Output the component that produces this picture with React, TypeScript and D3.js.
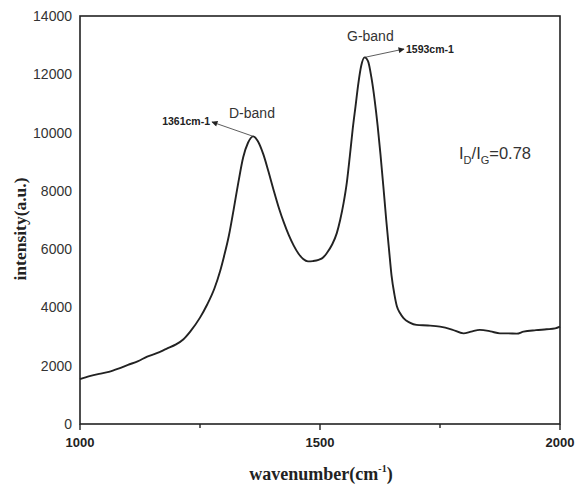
import React from "react";
import * as d3 from "d3";

const wavenumber = [
  1000, 1020, 1040, 1060, 1080, 1100, 1120, 1140, 1160, 1180, 1200, 1215, 1230, 1250, 1265, 1280, 1292, 1300, 1310, 1320,
  1330, 1340, 1350, 1361, 1370, 1382, 1392, 1403, 1415, 1425, 1435, 1445, 1455, 1465, 1475, 1485, 1497, 1507, 1514, 1525, 1535,
  1542, 1549, 1556, 1562, 1568, 1574, 1580, 1586, 1593, 1600, 1607, 1614, 1620, 1626, 1632, 1638, 1644, 1649, 1655, 1660,
  1667, 1674, 1687, 1701, 1725, 1750, 1775, 1799, 1815, 1833, 1855, 1875, 1892, 1910, 1924, 1950, 1972, 1990, 2000,
];
const intensity = [
  1540, 1640, 1720, 1790, 1900, 2030, 2150, 2310, 2430, 2580, 2730, 2900, 3180, 3650, 4100, 4650, 5250, 5750, 6450, 7350,
  8300, 9150, 9650, 9870, 9720, 9250, 8700, 8050, 7380, 6900, 6480, 6130, 5850, 5660, 5580, 5590, 5630, 5720, 5860, 6150, 6550,
  7000, 7570, 8300, 9170, 10100, 10900, 11700, 12300, 12580, 12450, 11900, 11100, 10250, 9250, 8150, 7000, 5950, 5100, 4450, 4050,
  3800, 3630, 3480, 3400, 3380, 3340, 3240, 3110, 3170, 3230, 3180, 3110, 3110, 3100, 3170, 3220, 3250, 3280, 3340,
];
const xTicks = [1000, 1250, 1500, 1750, 2000];
const xTickLabels = ["1000", "", "1500", "", "2000"];
const yTicks = [0, 2000, 4000, 6000, 8000, 10000, 12000, 14000];

const peaks = [
  { wn: 1361, val: 9870, label: "1361cm-1", band: "D-band" },
  { wn: 1593, val: 12580, label: "1593cm-1", band: "G-band" },
];

export default function App() {
  const W = 576, H = 487;
  const left = 80, right = 560, top = 16, bottom = 424;
  const x = d3.scaleLinear().domain([1000, 2000]).range([left, right]);
  const y = d3.scaleLinear().domain([0, 14000]).range([bottom, top]);
  const data = wavenumber.map((w, i) => [w, intensity[i]] as [number, number]);
  const line = d3.line<[number, number]>().x(d => x(d[0])).y(d => y(d[1])).curve(d3.curveMonotoneX);

  const dPk = peaks[0], gPk = peaks[1];
  const sans = "'Liberation Sans', Arial, sans-serif";
  const serif = "'Liberation Serif', 'Times New Roman', serif";

  return (
    <svg width={W} height={H} style={{ position: "absolute", left: 0, top: 0, background: "#fff" }}>
      <defs>
        <marker id="arr" viewBox="0 0 10 10" refX="9" refY="5" markerWidth="9" markerHeight="6" orient="auto" markerUnits="userSpaceOnUse">
          <path d="M0,0 L10,5 L0,10 z" fill="#222" />
        </marker>
      </defs>
      <rect x={0} y={0} width={W} height={H} fill="#fff" />
      <rect x={left} y={top} width={right - left} height={bottom - top} fill="none" stroke="#222" strokeWidth={1.6} />
      {xTicks.map((t, i) => (
        <g key={t}>
          <line x1={x(t)} x2={x(t)} y1={bottom} y2={bottom + (xTickLabels[i] ? 6 : 4)} stroke="#222" strokeWidth={1.4} />
          {xTickLabels[i] && (
            <text x={x(t)} y={447} textAnchor="middle" fontFamily={sans} fontWeight="bold" fontSize={13} fill="#222">{xTickLabels[i]}</text>
          )}
        </g>
      ))}
      {yTicks.map(t => (
        <text key={t} x={72} y={y(t) + 5} textAnchor="end" fontFamily={sans} fontSize={14} fill="#333">{t}</text>
      ))}
      <path d={line(data) || ""} fill="none" stroke="#222" strokeWidth={1.9} strokeLinejoin="round" />
      <line x1={x(dPk.wn)} y1={y(dPk.val)} x2={212} y2={122} stroke="#333" strokeWidth={0.8} markerEnd="url(#arr)" />
      <text x={210} y={125} textAnchor="end" fontFamily={sans} fontWeight="bold" fontSize={10.5} fill="#222">{dPk.label}</text>
      <text x={229} y={118} fontFamily={sans} fontSize={14} fill="#333">{dPk.band}</text>
      <line x1={x(gPk.wn)} y1={y(gPk.val)} x2={404} y2={49} stroke="#333" strokeWidth={0.8} markerEnd="url(#arr)" />
      <text x={406} y={53} fontFamily={sans} fontWeight="bold" fontSize={10.5} fill="#222">{gPk.label}</text>
      <text x={347} y={41} fontFamily={sans} fontSize={14} fill="#333">{gPk.band}</text>
      <text x={459} y={159} fontFamily={sans} fontSize={16.5} fill="#333">
        I<tspan fontSize={11} dy={5}>D</tspan><tspan dy={-5}>/I</tspan><tspan fontSize={11} dy={5}>G</tspan><tspan dy={-5}>=0.78</tspan>
      </text>
      <text x={321} y={480} textAnchor="middle" fontFamily={serif} fontWeight="bold" fontSize={18} fill="#222">
        wavenumber(cm<tspan fontSize={10} dy={-8}>-1</tspan><tspan dy={8}>)</tspan>
      </text>
      <text transform={`translate(26,229) rotate(-90)`} textAnchor="middle" fontFamily={serif} fontWeight="bold" fontSize={17.5} fill="#222">
        intensity(a.u.)
      </text>
    </svg>
  );
}
